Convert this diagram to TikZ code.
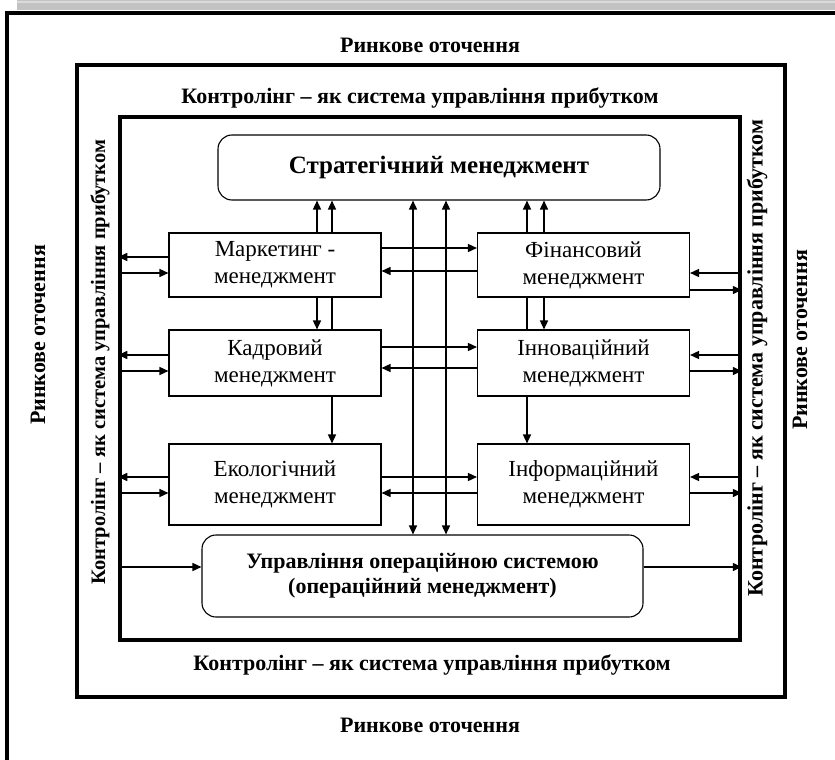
\documentclass[tikz,border=0pt]{standalone}
\usepackage{fontspec}
\setmainfont{Liberation Serif}
\usetikzlibrary{arrows.meta}

\begin{document}
\begin{tikzpicture}[x=1pt,y=-1pt,
  frame/.style={draw,line width=3.5pt,inner sep=0pt},
  box/.style={draw,line width=1.1pt,minimum width=212pt,align=center,inner sep=0pt,
    font=\fontsize{23}{27}\selectfont},
  rbox/.style={draw,line width=1.1pt,rounded corners=14pt,align=center,inner sep=0pt},
  lbl/.style={font=\fontsize{22}{25}\selectfont\bfseries},
  link/.style={line width=1.5pt},
  arr/.style={link,-{Triangle[length=9pt,width=8pt]}},
  arrb/.style={link,{Triangle[length=9pt,width=8pt]}-{Triangle[length=9pt,width=8pt]}}]
\definecolor{cband}{rgb}{0.76,0.76,0.76}
\definecolor{cbandl}{rgb}{0.86,0.86,0.86}
\useasboundingbox (0,0) rectangle (835,760);
%
\fill[cband] (17,0) rectangle (835,10);
\draw[cbandl,line width=1.5pt] (17,2) -- (835,2);
\draw[line width=4pt] (7,770) -- (7,13) -- (845,13);
%
\node[frame,minimum width=708pt,minimum height=632pt] (mid) at (431,381) {};
\node[frame,minimum width=620pt,minimum height=523pt] (inner) at (430,378.5) {};
%
\node[lbl] (rtop) at (430,45) {Ринкове оточення};
\node[lbl] (rbot) at (430,725) {Ринкове оточення};
\node[lbl,rotate=90] (rleft) at (38,335) {Ринкове оточення};
\node[lbl,rotate=90] (rright) at (800,340) {Ринкове оточення};
\node[lbl] (ktop) at (420,98) {Контролінг – як система управління прибутком};
\node[lbl] (kbot) at (432,665) {Контролінг – як система управління прибутком};
\node[lbl,rotate=90,font=\fontsize{20.5}{24}\selectfont\bfseries] (kleft) at (100,362) {Контролінг – як система управління прибутком};
\node[lbl,rotate=90] (kright) at (757,358) {Контролінг – як система управління прибутком};
%
\node[rbox,minimum width=442pt,minimum height=65pt,font=\fontsize{25}{30}\selectfont\bfseries] (strat) at (439,167.5) {Стратегічний менеджмент};
\node[box,minimum height=64pt] (mark) at (275,265) {Маркетинг -\\менеджмент};
\node[box,minimum height=64pt] (fin) at (583.5,265) {Фінансовий\\менеджмент};
\node[box,minimum height=66pt] (kadr) at (275,363) {Кадровий\\менеджмент};
\node[box,minimum height=66pt] (innov) at (583.5,363) {Інноваційний\\менеджмент};
\node[box,minimum height=81pt] (eko) at (275,484.5) {Екологічний\\менеджмент};
\node[box,minimum height=81pt] (inform) at (583.5,484.5) {Інформаційний\\менеджмент};
\node[rbox,minimum width=441pt,minimum height=82pt,font=\fontsize{22}{25}\selectfont\bfseries] (oper) at (422.5,576) {Управління операційною системою\\(операційний менеджмент)};
%
\draw[arr] (mark.north -| 317,0) -- (strat.south -| 317,0);
\draw[arr] (mark.north -| 332,0) -- (strat.south -| 332,0);
\draw[arr] (fin.north -| 527,0) -- (strat.south -| 527,0);
\draw[arr] (fin.north -| 544,0) -- (strat.south -| 544,0);
\draw[arr] (mark.south -| 317,0) -- (kadr.north -| 317,0);
\draw[link] (kadr.north -| 332,0) -- (mark.south -| 332,0);
\draw[arr] (fin.south -| 544,0) -- (innov.north -| 544,0);
\draw[link] (innov.north -| 527,0) -- (fin.south -| 527,0);
\draw[arr] (kadr.south -| 332,0) -- (eko.north -| 332,0);
\draw[arr] (innov.south -| 527,0) -- (inform.north -| 527,0);
\draw[arrb] (strat.south -| 413,0) -- (oper.north -| 413,0);
\draw[arrb] (strat.south -| 446,0) -- (oper.north -| 446,0);
%
\draw[arr] (mark.east |- 0,248) -- (fin.west |- 0,248);
\draw[arr] (fin.west |- 0,271) -- (mark.east |- 0,271);
\draw[arr] (kadr.east |- 0,347) -- (innov.west |- 0,347);
\draw[arr] (innov.west |- 0,368) -- (kadr.east |- 0,368);
\draw[arr] (eko.east |- 0,477) -- (inform.west |- 0,477);
\draw[arr] (inform.west |- 0,493) -- (eko.east |- 0,493);
%
\draw[arr] (mark.west |- 0,257) -- (inner.west |- 0,257);
\draw[arr] (inner.west |- 0,273) -- (mark.west |- 0,273);
\draw[arr] (kadr.west |- 0,355) -- (inner.west |- 0,355);
\draw[arr] (inner.west |- 0,371) -- (kadr.west |- 0,371);
\draw[arr] (eko.west |- 0,477) -- (inner.west |- 0,477);
\draw[arr] (inner.west |- 0,493) -- (eko.west |- 0,493);
\draw[arr] (inner.east |- 0,273) -- (fin.east |- 0,273);
\draw[arr] (fin.east |- 0,290) -- (inner.east |- 0,290);
\draw[arr] (inner.east |- 0,355) -- (innov.east |- 0,355);
\draw[arr] (innov.east |- 0,371) -- (inner.east |- 0,371);
\draw[arr] (inner.east |- 0,477) -- (inform.east |- 0,477);
\draw[arr] (inform.east |- 0,493) -- (inner.east |- 0,493);
\draw[arr] (inner.west |- 0,567) -- (oper.west |- 0,567);
\draw[arr] (oper.east |- 0,567) -- (inner.east |- 0,567);
%
\end{tikzpicture}
\end{document}
